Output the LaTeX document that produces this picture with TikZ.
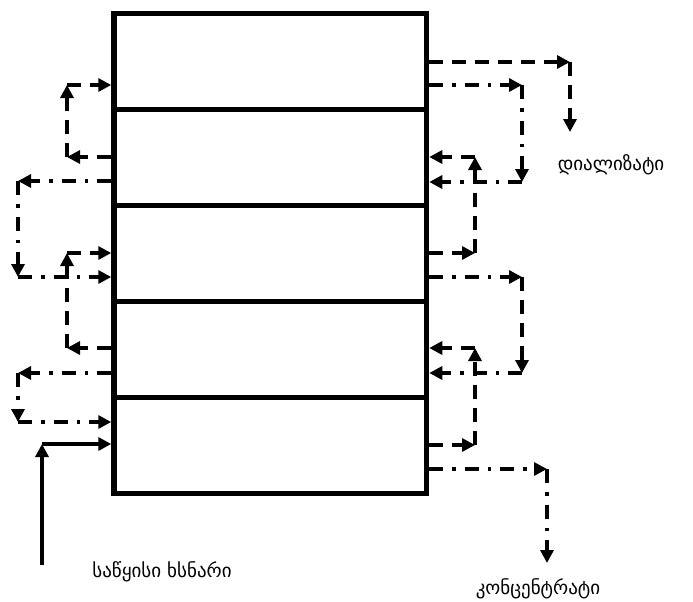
\documentclass[tikz,border=0pt]{standalone}
\usepackage{fontspec}
\newfontfamily\geo{DejaVu Sans}
\usetikzlibrary{arrows.meta}
\begin{document}
\begin{tikzpicture}[x=1pt,y=-1pt,
  sec/.style={draw, line width=5.5pt, minimum width=312.5pt, minimum height=96pt, inner sep=0pt},
  conn/.style={line width=3.5pt, -{Triangle[length=13pt,width=13pt]}},
  dsh/.style={conn, dash pattern=on 14pt off 9pt},
  dsd/.style={conn, dash pattern=on 14pt off 9pt on 3.5pt off 9pt},
  sol/.style={conn},
  lbl/.style={font=\geo\fontsize{19}{22}\selectfont, anchor=base, inner sep=0pt}]
\useasboundingbox (0,0) rectangle (693,602);
% column of sections
\node[sec] (s1) at (270.25,61.5) {};
\node[sec] (s2) at (270.25,157.5) {};
\node[sec] (s3) at (270.25,253.5) {};
\node[sec] (s4) at (270.25,349.5) {};
\node[sec] (s5) at (270.25,445.5) {};
% left side coordinates
\coordinate (la1) at (67,157);  \coordinate (la2) at (67,85);
\coordinate (lb1) at (67,348);  \coordinate (lb2) at (67,253);
\coordinate (lc1) at (18,181);  \coordinate (lc2) at (18,277);
\coordinate (ld1) at (18,373);  \coordinate (ld2) at (18,422);
\coordinate (f0) at (42,565);   \coordinate (f1) at (42,444);
% right side coordinates
\coordinate (ra1) at (570,62);  \coordinate (ra2) at (570,132);
\coordinate (rb1) at (522,85);  \coordinate (rb2) at (522,182);
\coordinate (rc1) at (475,253); \coordinate (rc2) at (475,157);
\coordinate (rd1) at (522,277); \coordinate (rd2) at (522,373);
\coordinate (re1) at (475,445); \coordinate (re2) at (475,348);
\coordinate (rf1) at (547,469); \coordinate (rf2) at (547,563);
% left loops
\draw[dsh] (s2.west |- la1) -- (la1);
\draw[dsh] (la1) -- (la2);
\draw[dsh] (la2) -- (s1.west |- la2);
\draw[dsh] (s4.west |- lb1) -- (lb1);
\draw[dsh] (lb1) -- (lb2);
\draw[dsh] (lb2) -- (s3.west |- lb2);
\draw[dsd] (s2.west |- lc1) -- (lc1);
\draw[dsd] (lc1) -- (lc2);
\draw[dsd] (lc2) -- (s3.west |- lc2);
\draw[dsd] (s4.west |- ld1) -- (ld1);
\draw[dsd] (ld1) -- (ld2);
\draw[dsd] (ld2) -- (s5.west |- ld2);
\draw[sol] (f0) -- (f1);
\draw[sol] (f1) -- (s5.west |- f1);
% right loops
\draw[dsh] (s1.east |- ra1) -- (ra1);
\draw[dsh] (ra1) -- (ra2);
\draw[dsd] (s1.east |- rb1) -- (rb1);
\draw[dsd] (rb1) -- (rb2);
\draw[dsd] (rb2) -- (s2.east |- rb2);
\draw[dsh] (s3.east |- rc1) -- (rc1);
\draw[dsh] (rc1) -- (rc2);
\draw[dsh] (rc2) -- (s2.east |- rc2);
\draw[dsd] (s3.east |- rd1) -- (rd1);
\draw[dsh] (rd1) -- (rd2);
\draw[dsd] (rd2) -- (s4.east |- rd2);
\draw[dsh] (s5.east |- re1) -- (re1);
\draw[dsh] (re1) -- (re2);
\draw[dsh] (re2) -- (s4.east |- re2);
\draw[dsd] (s5.east |- rf1) -- (rf1);
\draw[dsd] (rf1) -- (rf2);
% labels
\node[lbl] (dial) at (611,170) {დიალიზატი};
\node[lbl] (conc) at (538,594) {კონცენტრატი};
\node[lbl] (feed) at (162,577) {საწყისი ხსნარი};
\end{tikzpicture}
\end{document}
